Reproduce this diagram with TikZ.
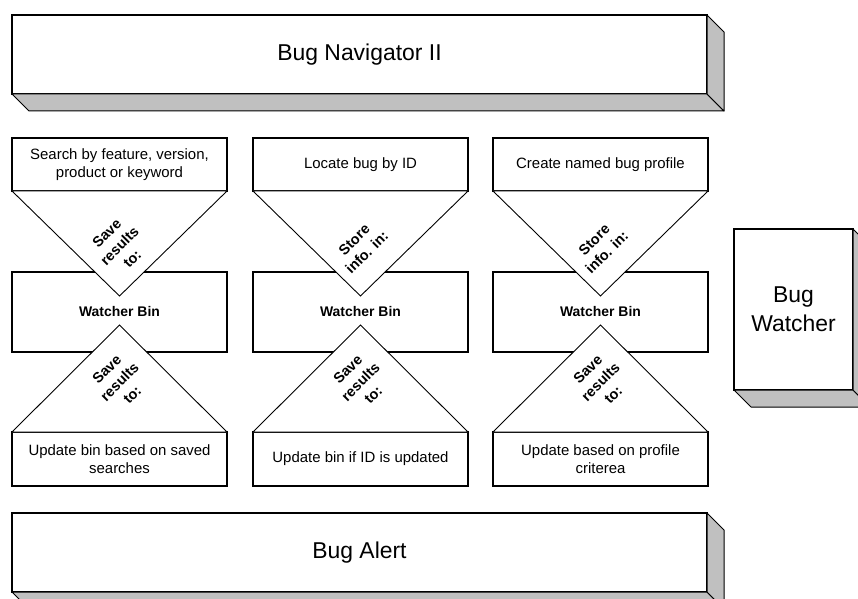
\documentclass[tikz,border=0pt]{standalone}
\usepackage{fontspec}
\setmainfont{Liberation Sans}
\usetikzlibrary{calc}
\definecolor{sidegray}{HTML}{C0C0C0}
\tikzset{
  x=1bp, y=-1bp,
  box/.style={draw, fill=white, line width=1.2bp, outer sep=0pt, inner sep=2bp, align=center},
  bigbox/.style={box, font=\fontsize{23}{29}\selectfont},
  taskbox/.style={box, minimum width=215bp, minimum height=53bp, font=\fontsize{15}{17.5}\selectfont},
  binbox/.style={box, minimum width=215bp, minimum height=80bp, font=\bfseries\fontsize{14}{17}\selectfont},
  depth/.style={fill=sidegray, draw, line width=1bp, line join=round},
  funnel/.style={draw, fill=white, line width=0.9bp, line join=miter},
  tag/.style={rotate=45, align=center, inner sep=0pt, font=\bfseries\fontsize{14.5}{18}\selectfont},
}
% grey bottom and right faces of a raised block
\newcommand\solidify[1]{%
  \filldraw[depth] (#1.south west) -- (#1.south east) -- ([shift={(17,17)}]#1.south east) -- ([shift={(17,17)}]#1.south west) -- cycle;
  \filldraw[depth] (#1.north east) -- ([shift={(17,17)}]#1.north east) -- ([shift={(17,17)}]#1.south east) -- (#1.south east) -- cycle;
}
\begin{document}
\begin{tikzpicture}
\useasboundingbox (0,0) rectangle (858,599);
\clip (0,0) rectangle (858,599);
\fill[white] (0,0) rectangle (858,599);

% large blocks
\node[bigbox, minimum width=695bp, minimum height=79bp] (nav) at (359.5,54.5) {Bug Navigator II};
\solidify{nav}
\node[bigbox, minimum width=695bp, minimum height=79bp] (alert) at (359.5,552.5) {Bug Alert};
\solidify{alert}
\node[bigbox, minimum width=119bp, minimum height=161bp] (watcher) at (793.5,309.5) {Bug\\Watcher};
\solidify{watcher}

% three columns: task, upper funnel, watcher bin, lower funnel, update rule
\foreach \i/\cx/\task/\intag/\upd in {
  1/119.5/{Search by feature, version,\\product or keyword}/{Save\\results\\to:}/{Update bin based on saved\\searches},
  2/360.5/{Locate bug by ID}/{Store\\info. in:}/{Update bin if ID is updated},
  3/600.5/{Create named bug profile}/{Store\\info. in:}/{Update based on profile\\criterea}}
{
  \node[taskbox] (task\i) at (\cx,164.5) {\task};
  \node[binbox] (bin\i) at (\cx,312) {Watcher Bin};
  \node[taskbox, minimum height=54bp] (upd\i) at (\cx,459) {\upd};
  \coordinate (top\i) at ($(task\i.south)+(0,105)$);
  \coordinate (bot\i) at ($(upd\i.north)+(0,-107)$);
  \filldraw[funnel] (task\i.south west) -- (task\i.south east) -- (top\i) -- cycle;
  \filldraw[funnel] (upd\i.north west) -- (upd\i.north east) -- (bot\i) -- cycle;
  \node[tag] (intag\i) at ($(task\i.south)+(0,55)$) {\intag};
  \node[tag] (outtag\i) at ($(upd\i.north)+(0,-50)$) {Save\\results\\to:};
}
\end{tikzpicture}
\end{document}
